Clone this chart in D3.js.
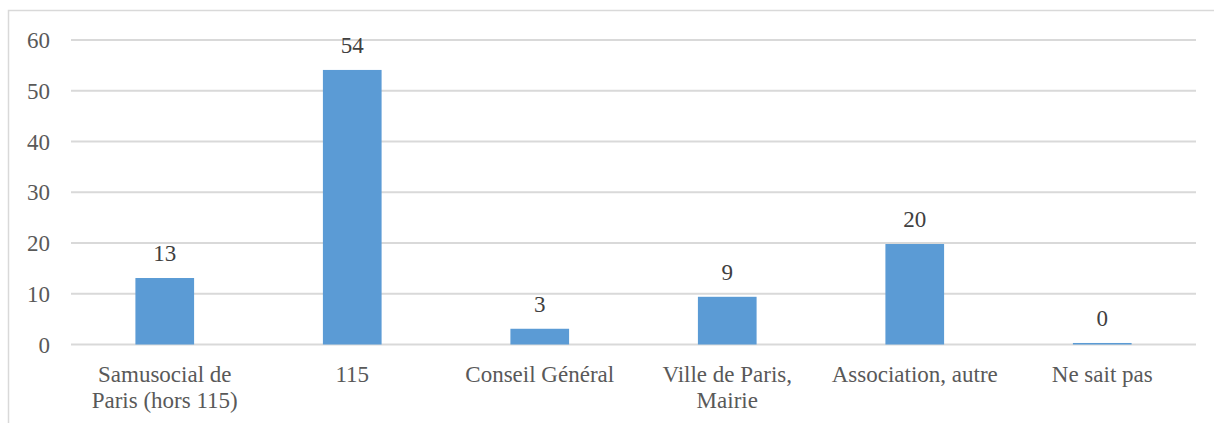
<!DOCTYPE html>
<html>
<head>
    <meta charset="UTF-8">
    <title>Orientation</title>
    <script src="https://d3js.org/d3.v7.min.js"></script>
    <style>
        body {
            margin: 0;
            background: #fff;
        }
        #chart text {
            font-family: "Times New Roman", "Liberation Serif", Tinos, serif !important;
            font-size: 23px;
        }
    </style>
</head>
<body>
    <svg id="chart" width="1214" height="423" font-family="Times New Roman"></svg>
    <script>
        const categories = [
            "Samusocial de\nParis (hors 115)",
            "115",
            "Conseil Général",
            "Ville de Paris,\nMairie",
            "Association, autre",
            "Ne sait pas"
        ];
        const values = [13.1, 54.1, 3.1, 9.4, 19.8, 0.3];
        const yTicks = [0, 10, 20, 30, 40, 50, 60];

        const margin = { top: 40, right: 18, bottom: 78.5, left: 71 };
        const width = 1214 - margin.left - margin.right;
        const height = 423 - margin.top - margin.bottom;

        const svg = d3.select("#chart");

        // chart frame
        svg.append("rect")
            .attr("x", 8.5).attr("y", 10.5)
            .attr("width", 1230).attr("height", 430)
            .attr("fill", "none")
            .attr("stroke", "#d9d9d9")
            .attr("stroke-width", 1.5);

        const g = svg.append("g")
            .attr("transform", `translate(${margin.left}, ${margin.top})`);

        const x = d3.scaleBand()
            .domain(categories)
            .range([0, width])
            .padding(0);

        const y = d3.scaleLinear()
            .domain([0, 60])
            .range([height, 0]);

        const barW = x.bandwidth() * 0.313;

        // gridlines
        g.selectAll("line.grid")
            .data(yTicks)
            .enter()
            .append("line")
            .attr("x1", 0).attr("x2", width)
            .attr("y1", d => y(d)).attr("y2", d => y(d))
            .attr("stroke", "#d9d9d9")
            .attr("stroke-width", 2);

        // y labels
        g.selectAll("text.ytick")
            .data(yTicks)
            .enter()
            .append("text")
            .attr("fill", "#595959")
            .attr("x", -21)
            .attr("y", d => y(d))
            .attr("dy", "0.35em")
            .attr("text-anchor", "end")
            .text(d => d);

        // bars
        g.selectAll("rect.bar")
            .data(values)
            .enter()
            .append("rect")
            .attr("x", (d, i) => x(categories[i]) + (x.bandwidth() - barW) / 2)
            .attr("y", d => y(d))
            .attr("width", barW)
            .attr("height", d => y(0) - y(d))
            .attr("fill", "#5b9bd5");

        // value labels
        g.selectAll("text.val")
            .data(values)
            .enter()
            .append("text")
            .attr("fill", "#404040")
            .attr("x", (d, i) => x(categories[i]) + x.bandwidth() / 2)
            .attr("y", d => y(d) - 17)
            .attr("text-anchor", "middle")
            .text(d => d3.format(".0f")(d));

        // category labels
        categories.forEach(c => {
            const t = g.append("text")
                .attr("fill", "#595959")
                .attr("text-anchor", "middle");
            c.split("\n").forEach((line, k) => {
                t.append("tspan")
                    .attr("x", x(c) + x.bandwidth() / 2)
                    .attr("y", height + 37.5 + k * 25.5)
                    .text(line);
            });
        });
    </script>
</body>
</html>
